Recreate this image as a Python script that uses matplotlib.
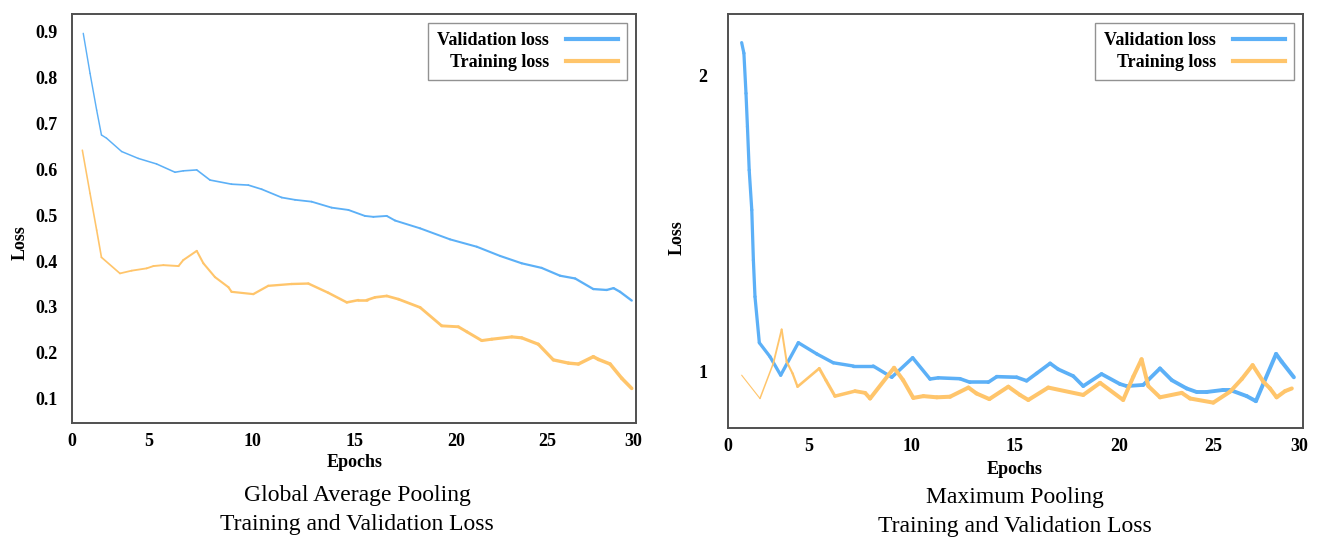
import numpy as np
import matplotlib
matplotlib.use("Agg")
import matplotlib.pyplot as plt
from matplotlib.collections import LineCollection
from matplotlib.lines import Line2D

# ---------------- data ----------------
gap_val_x = [0.73, 1.17, 1.60, 1.91, 2.24, 3.22, 4.30, 5.36, 6.25, 6.65, 7.30, 7.94, 8.98, 9.79, 10.44,
             11.42, 12.07, 12.88, 13.86, 14.68, 15.49, 15.91, 16.57, 16.98, 18.22, 19.70, 21.13, 22.40,
             23.58, 24.67, 25.72, 26.60, 27.66, 28.44, 28.84, 29.22, 29.90]
gap_val_y = [0.895, 0.808, 0.728, 0.674, 0.667, 0.638, 0.623, 0.611, 0.593, 0.596, 0.598, 0.576, 0.567,
             0.565, 0.556, 0.538, 0.533, 0.529, 0.516, 0.511, 0.498, 0.496, 0.498, 0.488, 0.471, 0.447,
             0.431, 0.411, 0.395, 0.385, 0.368, 0.362, 0.339, 0.337, 0.341, 0.333, 0.314]

gap_train_x = [0.67, 1.17, 1.60, 1.91, 3.11, 3.87, 4.84, 5.21, 5.69, 6.42, 6.65, 7.30, 7.62, 8.18, 8.83,
               8.98, 10.03, 10.76, 11.90, 12.72, 13.69, 14.60, 15.17, 15.58, 15.99, 16.57, 17.15, 18.22,
               19.29, 20.12, 20.59, 21.40, 21.95, 23.04, 23.58, 24.49, 25.33, 26.21, 26.79, 27.66, 27.96,
               28.64, 29.32, 29.90]
gap_train_y = [0.641, 0.547, 0.467, 0.408, 0.373, 0.379, 0.384, 0.389, 0.391, 0.389, 0.402, 0.422, 0.395,
               0.365, 0.343, 0.333, 0.328, 0.346, 0.350, 0.351, 0.331, 0.310, 0.315, 0.315, 0.321, 0.324,
               0.317, 0.299, 0.259, 0.257, 0.246, 0.227, 0.230, 0.235, 0.233, 0.219, 0.185, 0.178, 0.176,
               0.192, 0.186, 0.176, 0.145, 0.123]

max_val_x = [0.85, 0.99, 1.12, 1.21, 1.32, 1.48, 1.58, 1.68, 1.95, 2.61, 3.28, 4.38, 5.41, 6.21, 7.18,
             8.14, 9.04, 10.05, 10.89, 11.29, 12.34, 12.82, 13.71, 14.12, 15.08, 15.56, 16.04, 16.69,
             17.08, 17.80, 18.28, 19.16, 20.05, 20.41, 21.29, 22.18, 22.81, 23.60, 24.13, 24.66, 25.60,
             25.99, 26.96, 27.49, 28.66, 28.98, 29.69]
max_val_y = [2.113, 2.077, 1.941, 1.828, 1.681, 1.546, 1.376, 1.252, 1.096, 1.049, 0.986, 1.096, 1.058,
             1.028, 1.017, 1.017, 0.979, 1.045, 0.973, 0.977, 0.974, 0.962, 0.962, 0.981, 0.979, 0.967,
             0.992, 1.026, 1.006, 0.983, 0.949, 0.990, 0.956, 0.949, 0.953, 1.009, 0.969, 0.941, 0.929,
             0.929, 0.936, 0.936, 0.915, 0.898, 1.058, 1.032, 0.979]

max_train_x = [0.85, 1.99, 2.82, 3.34, 3.65, 4.02, 4.33, 5.53, 5.85, 6.29, 7.26, 7.75, 7.99, 9.15, 9.59,
               10.08, 10.57, 11.22, 11.86, 12.75, 13.14, 13.76, 14.68, 15.24, 15.64, 16.60, 18.28, 19.09,
               20.22, 20.76, 21.20, 21.56, 22.18, 23.34, 23.78, 25.02, 25.99, 26.67, 27.30, 27.92, 28.31,
               28.69, 29.18, 29.57]
max_train_y = [0.986, 0.907, 1.026, 1.141, 1.032, 0.992, 0.947, 1.009, 0.969, 0.915, 0.932, 0.926, 0.907,
               1.011, 0.969, 0.909, 0.915, 0.911, 0.913, 0.944, 0.924, 0.905, 0.947, 0.919, 0.902, 0.944,
               0.919, 0.960, 0.902, 0.981, 1.040, 0.949, 0.911, 0.926, 0.907, 0.893, 0.930, 0.973, 1.020,
               0.964, 0.941, 0.911, 0.932, 0.941]

x_ticks = [0, 5, 10, 15, 20, 25, 30]
gap_y_ticks = [0.1, 0.2, 0.3, 0.4, 0.5, 0.6, 0.7, 0.8, 0.9]
gap_y_ticklabels = ["0.1", "0.2", "0.3", "0.4", "0.5", "0.6", "0.7", "0.8", "0.9"]
max_y_ticks = [1, 2]
max_y_ticklabels = ["1", "2"]

series_labels = ["Validation loss", "Training loss"]
captions = ["Global Average Pooling\nTraining and Validation Loss",
            "Maximum Pooling\nTraining and Validation Loss"]

# ---------------- style / layout ----------------
BLUE = "#5cb0f7"
ORANGE = "#ffc56b"
SPINE = "#505050"
SERIF = ["Liberation Serif", "DejaVu Serif"]
plt.rcParams["font.family"] = SERIF

# the source chart places its epoch ticks slightly unevenly along the axis
GAP_TICK_POS = [0, 4.10, 9.61, 15.05, 20.43, 25.3, 29.86]
MAX_TICK_POS = [0, 4.19, 9.58, 14.97, 20.4, 25.3, 29.8]

W, H = 1320, 539
fig = plt.figure(figsize=(W / 100, H / 100), dpi=100)


def px_axes(x0, y0, x1, y1):
    return fig.add_axes([x0 / W, 1 - y1 / H, (x1 - x0) / W, (y1 - y0) / H])


def piecewise(src, dst):
    s = np.asarray(src, float)
    d = np.asarray(dst, float)

    def f(x):
        x = np.asarray(x, float)
        y = np.interp(x, s, d)
        lo_slope = (d[1] - d[0]) / (s[1] - s[0])
        hi_slope = (d[-1] - d[-2]) / (s[-1] - s[-2])
        y = np.where(x < s[0], d[0] + (x - s[0]) * lo_slope, y)
        y = np.where(x > s[-1], d[-1] + (x - s[-1]) * hi_slope, y)
        return y
    return f


def ramp_line(ax, xs, ys, color, w0, w1, xr=(0, 30)):
    xs = np.asarray(xs, float)
    ys = np.asarray(ys, float)
    pts = np.column_stack([xs, ys]).reshape(-1, 1, 2)
    segs = np.concatenate([pts[:-1], pts[1:]], axis=1)
    mids = (xs[:-1] + xs[1:]) / 2
    widths = np.interp(mids, xr, [w0, w1])
    lc = LineCollection(segs, colors=color, linewidths=widths, capstyle="round", joinstyle="round")
    ax.add_collection(lc)


def style_axes(ax, tick_pos, xmax, ylim, yticks, yticklabels, ypad):
    ax.set_xscale("function", functions=(piecewise(x_ticks, tick_pos), piecewise(tick_pos, x_ticks)))
    ax.set_xlim(0, xmax)
    ax.set_ylim(*ylim)
    ax.set_xticks(x_ticks)
    ax.set_xticklabels([str(t) for t in x_ticks], fontsize=13, fontweight="bold")
    ax.set_yticks(yticks)
    ax.set_yticklabels(yticklabels, fontsize=13, fontweight="bold")
    ax.minorticks_off()
    ax.tick_params(axis="both", length=0)
    ax.tick_params(axis="x", pad=7)
    ax.tick_params(axis="y", pad=ypad)
    for s in ax.spines.values():
        s.set_color(SPINE)
        s.set_linewidth(1.4)
    handles = [Line2D([], [], color=BLUE, lw=3), Line2D([], [], color=ORANGE, lw=3)]
    leg = ax.legend(handles, series_labels, loc="upper right", markerfirst=False,
                    prop={"family": SERIF, "weight": "bold", "size": 13},
                    frameon=True, fancybox=False, edgecolor="#777777",
                    handlelength=2.9, handletextpad=0.9, borderpad=0.5,
                    labelspacing=0.28, borderaxespad=0.5)
    leg.get_frame().set_linewidth(1.0)
    return ax


# ---- left: Global Average Pooling ----
ax1 = px_axes(72, 14, 636, 423)
style_axes(ax1, GAP_TICK_POS, 30.15, (0.0478, 0.937), gap_y_ticks, gap_y_ticklabels, 10)
ramp_line(ax1, gap_val_x, gap_val_y, BLUE, 1.0, 1.7)
ramp_line(ax1, gap_train_x, gap_train_y, ORANGE, 1.1, 2.6)
ax1.set_xlabel("Epochs", fontsize=13, fontweight="bold")
ax1.xaxis.set_label_coords(0.502, -0.075)
ax1.set_ylabel("Loss", fontsize=13, fontweight="bold")
ax1.yaxis.set_label_coords(-0.076, 0.44)

# ---- right: Maximum Pooling ----
ax2 = px_axes(728, 14, 1303, 428)
style_axes(ax2, MAX_TICK_POS, 30.22, (0.807, 2.210), max_y_ticks, max_y_ticklabels, 15)
ramp_line(ax2, max_val_x, max_val_y, BLUE, 2.3, 2.9)
ramp_line(ax2, max_train_x, max_train_y, ORANGE, 0.8, 2.9, xr=(1.5, 8))
ax2.set_xlabel("Epochs", fontsize=13, fontweight="bold")
ax2.xaxis.set_label_coords(0.498, -0.079)
ax2.set_ylabel("Loss", fontsize=13, fontweight="bold")
ax2.yaxis.set_label_coords(-0.073, 0.461)

# ---- captions ----
fig.text(357 / W, 1 - 510 / H, captions[0], ha="center", va="center", fontsize=17,
         family=SERIF, linespacing=1.5)
fig.text(1015 / W, 1 - 512 / H, captions[1], ha="center", va="center", fontsize=17,
         family=SERIF, linespacing=1.5)

fig.savefig("out.png", dpi=100)
